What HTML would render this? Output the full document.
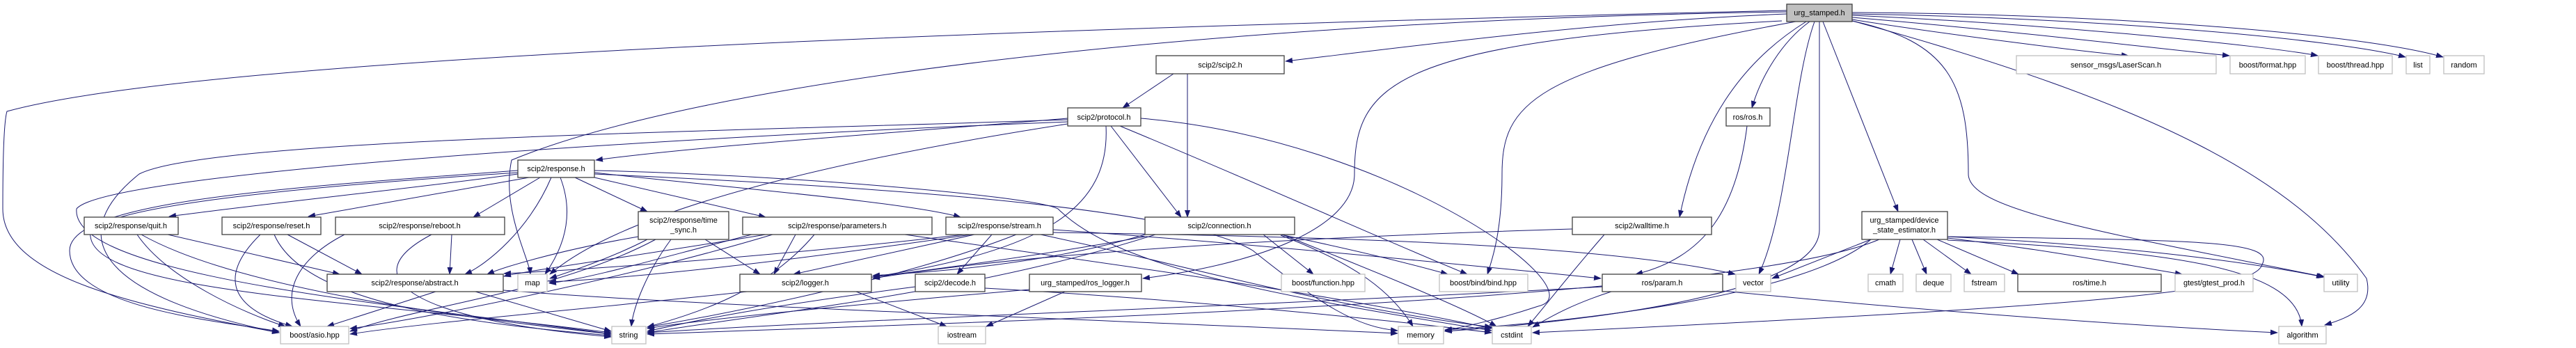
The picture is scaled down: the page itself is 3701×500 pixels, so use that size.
<!DOCTYPE html>
<html><head><meta charset="utf-8"><style>
html,body{margin:0;padding:0;background:#fff;}
svg{display:block;}
text{font-family:"Liberation Sans",sans-serif;font-size:11px;fill:#000;}
.e{fill:none;stroke:#191970;stroke-width:1;marker-end:url(#a);}
.n{fill:#fff;stroke:#404040;stroke-width:1.3;}
.g{fill:#fff;stroke:#bfbfbf;stroke-width:1.3;}
</style></head><body>
<svg width="3701" height="500" viewBox="0 0 3701 500" xmlns="http://www.w3.org/2000/svg">
<defs><marker id="a" markerWidth="11" markerHeight="8" refX="10" refY="4" orient="auto" markerUnits="userSpaceOnUse"><path d="M0,0 L11,4 L0,8z" fill="#191970"/></marker></defs>
<g>
<path class="e" d="M2567,20 C2300,30 2000,70 1847,88"/>
<path class="e" d="M2661,28 C2800,50 3000,75 3058,80"/>
<path class="e" d="M2661,25 C2900,45 3100,70 3203,80"/>
<path class="e" d="M2661,22 C2950,35 3250,65 3330,80"/>
<path class="e" d="M2661,20 C3000,25 3350,55 3456,82"/>
<path class="e" d="M2661,18 C3050,20 3400,50 3510,82"/>
<path class="e" d="M2600,31 C2560,60 2530,110 2517,155"/>
<path class="e" d="M2595,31 C2500,90 2440,180 2413,312"/>
<path class="e" d="M2607,31 C2575,120 2570,300 2527,394"/>
<path class="e" d="M2619,31 L2727,304"/>
<path class="e" d="M2614,31 L2614,330 C2614,420 2300,460 2076,476"/>
<path class="e" d="M2560,30 C2000,60 1946,120 1946,250 C1946,330 1800,380 1642,400"/>
<path class="e" d="M2580,31 C2200,100 2158,150 2158,250 C2158,330 2145,370 2137,394"/>
<path class="e" d="M2661,30 C2800,60 2828,120 2828,250 C2828,300 3000,330 3340,398"/>
<path class="e" d="M2661,30 C3100,150 3300,260 3400,400 C3410,440 3380,455 3340,467"/>
<path class="e" d="M2567,15 C1500,40 300,80 10,160 C4,180 4,280 4,300 C4,400 200,440 401,478"/>
<path class="e" d="M2567,17 C1700,30 1000,120 735,230 C720,300 760,370 762,394"/>
<path class="e" d="M1706,106 L1706,312"/>
<path class="e" d="M1686,106 L1613,155"/>
<path class="e" d="M1534,170 C1300,190 1000,210 856,230"/>
<path class="e" d="M1596,181 L1697,312"/>
<path class="e" d="M1609,181 C1800,260 2000,350 2108,394"/>
<path class="e" d="M1639,170 C2000,200 2300,420 2210,440 C2150,460 2100,470 2076,475"/>
<path class="e" d="M1534,178 C1200,230 900,300 790,394"/>
<path class="e" d="M1589,181 C1595,300 1500,360 1254,398"/>
<path class="e" d="M1534,172 C1000,190 300,200 200,250 C100,330 120,420 401,478"/>
<path class="e" d="M1534,175 C900,200 150,250 110,300 C100,400 600,440 878,480"/>
<path class="e" d="M744,250 C600,270 400,290 243,311"/>
<path class="e" d="M760,255 L443,311"/>
<path class="e" d="M776,255 L680,312"/>
<path class="e" d="M826,255 L930,304"/>
<path class="e" d="M854,255 L1100,312"/>
<path class="e" d="M854,248 C1050,270 1300,290 1380,312"/>
<path class="e" d="M792,255 C760,330 700,380 668,394"/>
<path class="e" d="M805,255 C830,320 800,370 783,394"/>
<path class="e" d="M744,245 C400,270 100,290 100,360 C100,440 300,460 401,476"/>
<path class="e" d="M744,248 C400,270 120,300 130,340 C140,420 500,430 878,478"/>
<path class="e" d="M854,245 C1100,250 1480,280 1520,300 C1600,380 1800,420 2143,475"/>
<path class="e" d="M854,250 C1300,270 1700,300 1800,360 C1900,440 1950,470 2008,475"/>
<path class="e" d="M241,337 L488,394"/>
<path class="e" d="M197,337 C240,400 350,450 410,469"/>
<path class="e" d="M203,337 C350,420 700,460 878,480"/>
<path class="e" d="M413,337 L520,394"/>
<path class="e" d="M374,337 C320,390 320,440 420,469"/>
<path class="e" d="M394,337 C430,420 600,460 878,482"/>
<path class="e" d="M649,337 L646,394"/>
<path class="e" d="M495,337 C430,370 400,420 432,469"/>
<path class="e" d="M620,337 C500,400 600,460 878,484"/>
<path class="e" d="M917,340 C800,360 720,385 700,394"/>
<path class="e" d="M930,344 C880,370 820,390 790,400"/>
<path class="e" d="M964,344 C930,390 910,440 907,469"/>
<path class="e" d="M1013,344 L1092,394"/>
<path class="e" d="M942,344 C800,420 600,440 503,476"/>
<path class="e" d="M1100,337 C900,370 750,390 724,397"/>
<path class="e" d="M1080,337 C950,370 850,400 789,407"/>
<path class="e" d="M1143,337 L1112,394"/>
<path class="e" d="M1170,337 C1100,420 1000,450 930,470"/>
<path class="e" d="M1110,337 C900,400 600,460 503,472"/>
<path class="e" d="M1300,337 C1600,380 1900,420 2143,472"/>
<path class="e" d="M1385,337 C1100,370 800,390 724,393"/>
<path class="e" d="M1395,337 C1100,380 900,400 789,405"/>
<path class="e" d="M1400,337 L1140,394"/>
<path class="e" d="M1425,337 L1375,394"/>
<path class="e" d="M1460,337 C1300,400 1050,450 930,470"/>
<path class="e" d="M1495,337 C1700,380 1900,440 2143,470"/>
<path class="e" d="M1513,334 C1900,340 2300,350 2493,394"/>
<path class="e" d="M1513,330 C1800,350 2100,380 2300,400"/>
<path class="e" d="M1645,337 C1500,380 1350,390 1254,396"/>
<path class="e" d="M1815,337 L1887,394"/>
<path class="e" d="M1840,337 C1950,360 2030,380 2080,394"/>
<path class="e" d="M1840,338 C1950,380 2000,420 2030,469"/>
<path class="e" d="M1845,338 C1950,380 2100,440 2150,469"/>
<path class="e" d="M1660,337 C1400,420 1100,450 930,478"/>
<path class="e" d="M1645,340 C1200,420 700,450 503,480"/>
<path class="e" d="M2259,329 C1900,340 1500,360 1254,400"/>
<path class="e" d="M2305,337 C2250,400 2220,440 2195,469"/>
<path class="e" d="M626,419 L470,469"/>
<path class="e" d="M683,419 L878,476"/>
<path class="e" d="M723,417 C1000,440 1600,460 2008,479"/>
<path class="e" d="M2510,181 C2495,300 2450,370 2350,394"/>
<path class="e" d="M2315,419 C2250,440 2220,460 2202,470"/>
<path class="e" d="M2302,412 C1800,440 1200,460 930,478"/>
<path class="e" d="M2475,418 C2800,450 3100,470 3272,478"/>
<path class="e" d="M2688,344 L2546,400"/>
<path class="e" d="M2730,344 L2716,394"/>
<path class="e" d="M2747,344 L2768,394"/>
<path class="e" d="M2763,344 L2832,394"/>
<path class="e" d="M2783,344 L2900,394"/>
<path class="e" d="M2798,342 C2950,360 3050,380 3135,394"/>
<path class="e" d="M2798,340 C3000,350 3200,370 3338,398"/>
<path class="e" d="M2798,340 C3150,345 3270,345 3250,380 C3240,420 3000,440 2202,478"/>
<path class="e" d="M2798,345 C3100,360 3300,380 3307,469"/>
<path class="e" d="M2688,344 C2600,420 2300,460 2076,474"/>
<path class="e" d="M2700,344 C2500,430 1500,460 930,480"/>
<path class="e" d="M1415,414 C1700,430 2000,460 2143,478"/>
<path class="e" d="M1315,412 C1100,440 1000,460 930,476"/>
<path class="e" d="M1530,419 L1417,469"/>
<path class="e" d="M1479,416 C1200,440 1000,460 930,472"/>
<path class="e" d="M1230,419 L1360,469"/>
</g>
<g text-anchor="middle">
<rect x="2567" y="6" width="94" height="25" fill="#bfbfbf" stroke="#404040" stroke-width="1.3"/><text x="2614" y="22">urg_stamped.h</text>

<rect class="n" x="1661" y="80" width="184" height="26"/><text x="1753" y="97">scip2/scip2.h</text>
<rect class="g" x="2897" y="80" width="287" height="26"/><text x="3040" y="97">sensor_msgs/LaserScan.h</text>
<rect class="g" x="3204" y="80" width="108" height="26"/><text x="3258" y="97">boost/format.hpp</text>
<rect class="g" x="3331" y="80" width="106" height="26"/><text x="3384" y="97">boost/thread.hpp</text>
<rect class="g" x="3457" y="80" width="34" height="26"/><text x="3474" y="97">list</text>
<rect class="g" x="3511" y="80" width="58" height="26"/><text x="3540" y="97">random</text>

<rect class="n" x="1534" y="155" width="105" height="26"/><text x="1586" y="172">scip2/protocol.h</text>
<rect class="n" x="2480" y="155" width="63" height="26"/><text x="2511" y="172">ros/ros.h</text>

<rect class="n" x="744" y="230" width="110" height="25"/><text x="799" y="246">scip2/response.h</text>

<rect class="n" x="121" y="312" width="135" height="25"/><text x="188" y="328">scip2/response/quit.h</text>
<rect class="n" x="319" y="312" width="142" height="25"/><text x="390" y="328">scip2/response/reset.h</text>
<rect class="n" x="482" y="312" width="243" height="25"/><text x="603" y="328">scip2/response/reboot.h</text>
<rect class="n" x="917" y="304" width="130" height="40"/><text x="982" y="320">scip2/response/time</text><text x="982" y="334">_sync.h</text>
<rect class="n" x="1067" y="312" width="272" height="25"/><text x="1203" y="328">scip2/response/parameters.h</text>
<rect class="n" x="1359" y="312" width="154" height="25"/><text x="1436" y="328">scip2/response/stream.h</text>
<rect class="n" x="1645" y="312" width="215" height="25"/><text x="1752" y="328">scip2/connection.h</text>
<rect class="n" x="2259" y="312" width="200" height="25"/><text x="2359" y="328">scip2/walltime.h</text>
<rect class="n" x="2675" y="304" width="123" height="40"/><text x="2736" y="320">urg_stamped/device</text><text x="2736" y="334">_state_estimator.h</text>

<rect class="n" x="470" y="394" width="253" height="25"/><text x="596" y="410">scip2/response/abstract.h</text>
<rect class="g" x="744" y="394" width="42" height="25"/><text x="765" y="410">map</text>
<rect class="n" x="1063" y="394" width="189" height="25"/><text x="1157" y="410">scip2/logger.h</text>
<rect class="n" x="1315" y="394" width="100" height="25"/><text x="1365" y="410">scip2/decode.h</text>
<rect class="n" x="1479" y="394" width="161" height="25"/><text x="1559" y="410">urg_stamped/ros_logger.h</text>
<rect class="g" x="1841" y="394" width="120" height="25"/><text x="1901" y="410">boost/function.hpp</text>
<rect class="g" x="2068" y="394" width="127" height="25"/><text x="2131" y="410">boost/bind/bind.hpp</text>
<rect class="n" x="2302" y="394" width="173" height="25"/><text x="2388" y="410">ros/param.h</text>
<rect class="g" x="2494" y="394" width="50" height="25"/><text x="2519" y="410">vector</text>
<rect class="g" x="2684" y="394" width="50" height="25"/><text x="2709" y="410">cmath</text>
<rect class="g" x="2753" y="394" width="50" height="25"/><text x="2778" y="410">deque</text>
<rect class="g" x="2822" y="394" width="58" height="25"/><text x="2851" y="410">fstream</text>
<rect class="n" x="2899" y="394" width="206" height="25"/><text x="3002" y="410">ros/time.h</text>
<rect class="g" x="3125" y="394" width="112" height="25"/><text x="3181" y="410">gtest/gtest_prod.h</text>
<rect class="g" x="3339" y="394" width="48" height="25"/><text x="3363" y="410">utility</text>

<rect class="g" x="403" y="469" width="98" height="25"/><text x="452" y="485">boost/asio.hpp</text>
<rect class="g" x="879" y="469" width="49" height="25"/><text x="903" y="485">string</text>
<rect class="g" x="1348" y="469" width="68" height="25"/><text x="1382" y="485">iostream</text>
<rect class="g" x="2009" y="469" width="65" height="25"/><text x="2041" y="485">memory</text>
<rect class="g" x="2144" y="469" width="56" height="25"/><text x="2172" y="485">cstdint</text>
<rect class="g" x="3274" y="469" width="68" height="25"/><text x="3308" y="485">algorithm</text>
</g>
</svg>
</body></html>
